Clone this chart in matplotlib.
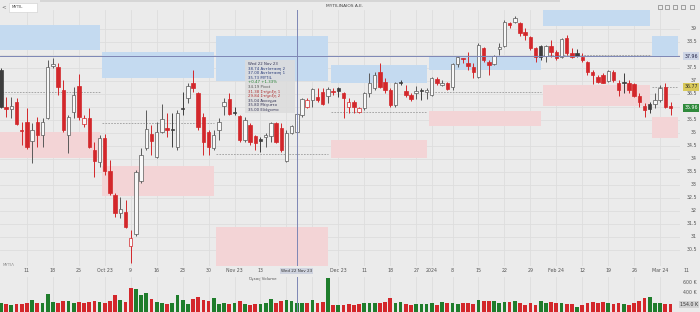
import numpy as np
import pandas as pd
import matplotlib.pyplot as plt
from matplotlib.patches import Rectangle
import matplotlib.transforms as mtransforms

W, H = 700, 312

# Athens trading days, Sep 2023 - Mar 2024
holidays = pd.to_datetime(["2023-12-25", "2023-12-26", "2024-01-01"])
days = pd.bdate_range("2023-09-04", "2024-03-06")
days = days[~days.isin(holidays)]

opens = [37.42, 36.00, 35.92, 36.19, 35.10, 35.42, 34.69, 35.42, 34.92, 35.58,
         37.58, 37.54, 36.65, 34.92, 35.81, 36.81, 35.35, 35.58, 34.35, 33.88,
         34.81, 33.54, 32.62, 31.92, 31.96, 30.65, 31.12, 33.15, 34.42, 34.96,
         34.08, 35.04, 35.19, 35.15, 34.46, 35.94, 36.35, 36.92, 36.54, 35.62,
         35.04, 34.42, 35.12, 36.04, 36.31, 35.79, 35.65, 34.73, 35.31, 34.88,
         34.77, 34.85, 34.88, 35.38, 35.19, 33.92, 35.00, 35.04, 35.69, 36.00,
         36.27, 36.38, 36.58, 36.42, 36.60, 36.73, 36.54, 36.00, 36.19, 35.81,
         35.96, 36.54, 36.73, 37.35, 36.96, 36.65, 36.08, 36.94, 36.62, 36.46,
         36.54, 36.63, 36.58, 36.46, 37.08, 36.85, 36.92, 36.77, 37.65, 37.86,
         37.69, 37.54, 37.15, 38.27, 37.73, 37.65, 38.23, 38.35, 39.23, 39.27,
         39.23, 38.88, 38.69, 38.27, 38.35, 37.96, 38.35, 38.12, 37.92, 38.65,
         38.08, 38.08, 37.92, 37.73, 37.35, 37.15, 37.23, 37.00, 37.35, 36.92,
         36.94, 36.92, 36.88, 36.42, 36.04, 36.12, 36.12, 36.27, 36.77, 36.04]
highs = [37.50, 36.38, 36.38, 36.35, 35.42, 35.96, 35.38, 35.62, 35.58, 37.81,
         37.88, 37.69, 37.04, 35.69, 36.77, 37.27, 35.69, 35.96, 34.65, 34.92,
         34.96, 33.96, 32.69, 32.54, 32.42, 31.27, 33.58, 34.42, 35.88, 35.31,
         35.42, 36.12, 35.77, 35.77, 35.88, 36.58, 36.92, 37.42, 36.58, 35.77,
         35.12, 35.12, 35.58, 36.35, 36.54, 36.00, 35.69, 35.62, 35.38, 34.92,
         34.85, 35.00, 35.42, 35.42, 35.38, 35.12, 35.31, 35.80, 36.35, 36.35,
         36.73, 36.73, 36.73, 36.77, 36.73, 36.75, 36.58, 36.35, 36.27, 36.00,
         36.58, 37.31, 37.35, 37.69, 37.12, 36.73, 36.96, 37.04, 36.85, 36.54,
         36.81, 36.73, 36.73, 37.15, 37.15, 37.04, 36.96, 37.69, 37.96, 37.88,
         38.12, 37.69, 38.46, 38.31, 37.81, 38.00, 38.46, 39.35, 39.27, 39.50,
         39.27, 39.04, 38.73, 38.31, 38.38, 38.38, 38.58, 38.19, 38.65, 38.77,
         38.27, 38.23, 38.08, 37.77, 37.42, 37.23, 37.31, 37.42, 37.42, 37.04,
         37.31, 37.04, 36.92, 36.54, 36.15, 36.19, 36.54, 36.85, 36.92, 36.19]
lows = [35.96, 35.62, 35.58, 35.31, 34.54, 34.38, 33.85, 34.46, 34.46, 35.54,
        37.50, 36.46, 35.04, 34.23, 35.58, 35.50, 35.23, 34.42, 33.31, 33.69,
        33.38, 32.62, 31.77, 31.73, 31.35, 30.00, 31.04, 33.08, 34.35, 34.15,
        34.04, 35.00, 34.85, 34.46, 34.35, 35.69, 36.15, 36.58, 35.12, 34.15,
        34.15, 34.35, 34.73, 35.69, 35.69, 35.69, 34.65, 34.65, 34.54, 34.35,
        34.27, 34.46, 34.65, 34.62, 34.27, 33.88, 34.96, 35.00, 35.62, 35.96,
        36.00, 36.19, 36.08, 36.15, 36.46, 36.38, 35.58, 35.77, 35.77, 35.77,
        35.88, 36.38, 36.65, 36.73, 36.54, 36.00, 36.00, 36.85, 36.38, 36.23,
        36.31, 36.27, 36.31, 36.42, 36.85, 36.81, 36.65, 36.65, 37.54, 37.69,
        37.42, 37.12, 37.12, 37.73, 37.23, 37.62, 38.00, 38.31, 39.04, 39.23,
        38.73, 38.58, 38.19, 37.73, 37.81, 37.73, 37.92, 37.81, 37.88, 38.00,
        37.88, 37.92, 37.73, 37.23, 36.88, 36.92, 36.92, 36.96, 36.96, 36.42,
        36.54, 36.54, 36.38, 36.00, 35.62, 35.77, 35.96, 36.19, 35.96, 35.69]
closes = [36.00, 35.92, 36.04, 35.35, 35.08, 34.46, 35.12, 34.92, 35.42, 37.54,
          37.65, 36.77, 35.12, 35.62, 36.46, 35.62, 35.58, 34.46, 33.92, 34.81,
          33.54, 32.69, 31.92, 32.08, 31.38, 30.96, 33.50, 34.15, 35.15, 34.69,
          35.04, 35.54, 35.12, 35.13, 35.77, 35.92, 36.81, 36.73, 35.23, 34.65,
          34.46, 34.92, 35.42, 36.19, 35.73, 35.77, 34.73, 35.50, 34.65, 34.62,
          34.69, 34.92, 35.38, 34.65, 34.35, 35.00, 35.26, 35.73, 36.31, 36.27,
          36.69, 36.27, 36.12, 36.69, 36.56, 36.62, 36.35, 36.19, 36.00, 35.96,
          36.54, 36.92, 37.23, 36.77, 36.65, 36.08, 36.92, 36.93, 36.46, 36.31,
          36.62, 36.62, 36.65, 37.12, 36.92, 36.92, 36.69, 37.65, 37.92, 37.83,
          37.58, 37.35, 38.38, 37.81, 37.62, 37.96, 38.31, 39.27, 39.15, 39.42,
          38.85, 38.77, 38.27, 37.92, 37.93, 38.35, 38.12, 37.88, 38.62, 38.08,
          37.92, 37.96, 37.81, 37.35, 37.23, 36.96, 36.94, 37.38, 37.04, 36.65,
          36.92, 36.65, 36.42, 36.19, 35.88, 35.92, 36.27, 36.73, 36.00, 35.96]
# thousands of shares
volumes = [174, 154, 140, 154, 160, 174, 240, 186, 186, 354, 206, 174, 226, 220, 186,
           206, 174, 194, 226, 194, 174, 226, 340, 240, 206, 474, 454, 340, 374, 254,
           206, 186, 154, 186, 340, 240, 154, 254, 306, 240, 220, 274, 154, 174, 154,
           186, 226, 154, 140, 154, 154, 174, 254, 174, 220, 240, 220, 186, 174, 186,
           240, 186, 206, 686, 140, 140, 140, 154, 140, 154, 174, 186, 186, 186, 206,
           286, 174, 206, 154, 140, 154, 154, 154, 174, 140, 206, 174, 186, 154, 174,
           174, 154, 240, 226, 226, 220, 174, 206, 206, 220, 174, 140, 174, 140, 220,
           186, 206, 174, 174, 160, 160, 106, 140, 174, 206, 174, 206, 186, 154, 186,
           154, 140, 174, 220, 274, 306, 174, 174, 154, 154]

# monthly pivot levels
months = ["2023-09", "2023-10", "2023-11", "2023-12", "2024-01", "2024-02", "2024-03"]
r2 = [39.15, 38.12, 38.74, 37.62, 37.96, 39.73, 38.73]
r1 = [38.19, 37.12, 37.00, 36.92, 37.42, 39.12, 37.96]
pivot = [36.58, 35.38, 34.19, 35.81, 36.58, 38.00, 36.77]
s1 = [35.04, 33.73, 31.38, 34.73, 35.85, 36.85, 35.62]
s2 = [34.04, 32.58, 29.84, 34.04, 35.27, 36.04, 34.81]

tick_dates = ["2023-09-11", "2023-09-18", "2023-09-25", "2023-10-02", "2023-10-09",
              "2023-10-16", "2023-10-23", "2023-10-30", "2023-11-06", "2023-11-13",
              "2023-11-20", "2023-11-27", "2023-12-04", "2023-12-11", "2023-12-18",
              "2023-12-27", "2024-01-02", "2024-01-08", "2024-01-15", "2024-01-22",
              "2024-01-29", "2024-02-05", "2024-02-12", "2024-02-19", "2024-02-26",
              "2024-03-04"]
tick_labels = ["11", "18", "25", "Oct 23", "9", "16", "23", "30", "Nov 23", "13",
               "20", "27", "Dec 23", "11", "18", "27", "2024", "8", "15", "22",
               "29", "Feb 24", "12", "19", "26", "Mar 24"]
price_ticks = np.arange(30.5, 39.01, 0.5)
vol_ticks = [400, 600]

cursor_day = "2023-11-22"
cursor_price = 37.96

BG = "#ebebeb"
GRID = "#dddddd"
RED = "#d3272b"
DARK = "#3d3d3d"
EDGE = "#5a5a5a"
GREEN = "#1f7d2c"
BLUE_Z = "#c4daf0"
RED_Z = "#f3d4d6"
CROSS = "#7d86b5"
LBL = "#555555"

o = np.array(opens); h = np.array(highs); l = np.array(lows); c = np.array(closes)
v = np.array(volumes)
n = len(c)
idx = np.arange(n)
prev = np.r_[c[0] - 1, c[:-1]]


def fy(px):
    return 1 - px / H


fig = plt.figure(figsize=(W / 100, H / 100), dpi=100)
fig.patch.set_facecolor(BG)

ax = fig.add_axes([0, fy(266), 680 / W, (266 - 10) / H])
vax = fig.add_axes([0, 0, 680 / W, (312 - 277) / H])
for a in (ax, vax):
    a.set_facecolor(BG)
    for s in a.spines.values():
        s.set_visible(False)
    a.set_xticks([]); a.set_yticks([])
    a.set_xlim(-0.19, 130.83)
ax.set_ylim(29.88, 39.73)
vax.set_ylim(0, 700)

# grid
tick_idx = [int(np.searchsorted(days, pd.Timestamp(d))) for d in tick_dates]
for t in tick_idx:
    ax.axvline(t, color=GRID, lw=0.6, zorder=0)
    vax.axvline(t, color=GRID, lw=0.6, zorder=0)
for p in price_ticks:
    ax.axhline(p, color=GRID, lw=0.6, zorder=0)

# monthly pivot zones: R1-R2 in blue, S1-S2 in pink, pivot dashed
month_of = days.strftime("%Y-%m")
for k, m in enumerate(months):
    sel = np.where(month_of == m)[0]
    x0 = sel[0] - 0.5
    x1 = sel[-1] + 0.5 - 0.4 if k < len(months) - 1 else 130.4
    ax.add_patch(Rectangle((x0, r1[k]), x1 - x0, r2[k] - r1[k], facecolor=BLUE_Z,
                           edgecolor="none", zorder=1))
    ax.add_patch(Rectangle((x0, s2[k]), x1 - x0, s1[k] - s2[k], facecolor=RED_Z,
                           edgecolor="none", zorder=1))
    ax.plot([x0, x1], [pivot[k]] * 2, color="#9c9c9c", lw=0.6, ls=(0, (2, 1.5)), zorder=2)

# candles: filled when close < open, red when close < previous close
bw = 0.66
for i in idx:
    col = RED if (i > 0 and c[i] < prev[i]) else DARK
    filled = c[i] < o[i]
    edge = col if (filled or col == RED) else EDGE
    ax.vlines(i, l[i], h[i], color=edge, lw=0.7, zorder=3)
    lo, hi = min(o[i], c[i]), max(o[i], c[i])
    hgt = max(hi - lo, 0.035)
    ax.add_patch(Rectangle((i - bw / 2, lo), bw, hgt,
                           facecolor=col if filled else "#f8f8f8",
                           edgecolor=edge, lw=0.5, zorder=4))

# volume
vcol = [GREEN if c[i] >= prev[i] else RED for i in idx]
vax.bar(idx, v, width=0.72, color=vcol, zorder=3)

# crosshair
ci = int(np.searchsorted(days, pd.Timestamp(cursor_day)))
ax.axhline(cursor_price, color=CROSS, lw=0.7, zorder=6)
ax.axvline(ci, color=CROSS, lw=0.7, zorder=6)
vax.axvline(ci, color=CROSS, lw=0.7, zorder=6)

# tooltip for the hovered day
k = months.index(cursor_day[:7])
chg = c[ci] - c[ci - 1]
day_txt = pd.Timestamp(cursor_day).strftime("%a %d %b %y")
rows = [(day_txt, "#333355"),
        (f"{r2[k]:.2f} Αντίσταση 2", "#2a3d7a"),
        (f"{r1[k]:.2f} Αντίσταση 1", "#2a3d7a"),
        (f"{c[ci]:.2f} MYTIL", "#2a3d7a"),
        (f"{chg:+.2f} {chg / c[ci - 1] * 100:+.2f}%", GREEN),
        (f"{pivot[k]:.2f} Pivot", LBL),
        (f"{s1[k]:.2f} Στήριξη 1", "#b03030"),
        (f"{s2[k]:.2f} Στήριξη 2", "#b03030"),
        (f"{o[ci]:.2f} Άνοιγμα", "#333355"),
        (f"{h[ci]:.2f} Μέγιστο", "#333355"),
        (f"{l[ci]:.2f} Ελάχιστο", "#333355")]
fig.patches.append(Rectangle((245 / W, fy(113)), 50 / W, 53 / H, transform=fig.transFigure,
                             facecolor="#dcdcdc", edgecolor="none", alpha=0.85, zorder=7))
for r, (txt, colr) in enumerate(rows):
    fig.text(248 / W, fy(64 + r * 4.6), txt, fontsize=2.8, color=colr, va="center",
             ha="left", zorder=8)

# right price axis with value tags
tr = mtransforms.blended_transform_factory(fig.transFigure, ax.transData)
tags = [(cursor_price, "#cdd5e6", "#222244"), (pivot[-1], "#d9c95a", "#333333"),
        (c[-1], "#2f8a3b", "white")]
tag_vals = np.array([t[0] for t in tags])
for p in price_ticks:
    if np.min(np.abs(tag_vals - p)) < 0.2:
        continue
    ax.text(697 / W, p, f"{p:g}", transform=tr, fontsize=3.4, color=LBL, ha="right",
            va="center", clip_on=False)
for val, fc, tc in tags:
    ax.text(698 / W, val, f"{val:.2f}", transform=tr, fontsize=3.4, color=tc, ha="right",
            va="center", clip_on=False, zorder=9,
            bbox=dict(boxstyle="square,pad=0.25", facecolor=fc, edgecolor="none"))

# volume axis
vtr = mtransforms.blended_transform_factory(fig.transFigure, vax.transData)
for val in vol_ticks:
    vax.text(697 / W, val, f"{val} K", transform=vtr, fontsize=3.4, color=LBL,
             ha="right", va="center", clip_on=False)
vax.text(698 / W, v[-1], f"{v[-1]:.1f} K", transform=vtr, fontsize=3.4, color="#333333",
         ha="right", va="center", clip_on=False,
         bbox=dict(boxstyle="square,pad=0.25", facecolor="#d2d2d2", edgecolor="none"))
fig.text(262 / W, fy(279), "Όγκος Volume", fontsize=2.8, color=LBL, ha="center",
         va="center")

# date labels between the panels
xtr = mtransforms.blended_transform_factory(ax.transData, fig.transFigure)
for t, lab in zip(tick_idx, tick_labels):
    if abs(t - ci) < 4:
        continue
    fig.text(t, fy(271), lab, transform=xtr, fontsize=3.4, color=LBL, ha="center",
             va="center")
fig.text(n + 2, fy(271), "11", transform=xtr, fontsize=3.4, color=LBL, ha="center",
         va="center")
fig.text(ci, fy(271), day_txt, transform=xtr, fontsize=3.0, color="#333333", ha="center",
         va="center", zorder=9,
         bbox=dict(boxstyle="square,pad=0.2", facecolor="#cfd3df", edgecolor="none"))
fig.text(3 / W, fy(265), "ΜΥΤΙΛ", fontsize=2.8, color="#8a8a8a", ha="left", va="center")

# top bar
fig.patches.append(Rectangle((40 / W, fy(2)), 520 / W, 2 / H, transform=fig.transFigure,
                             facecolor="#d6d6d6", edgecolor="none"))
fig.patches.append(Rectangle((9 / W, fy(12)), 28 / W, 9 / H, transform=fig.transFigure,
                             facecolor="white", edgecolor="#cccccc", lw=0.4))
fig.text(4 / W, fy(6.5), "<", fontsize=4, color="#666666", ha="center", va="center")
fig.text(12 / W, fy(7.5), "MYTIL", fontsize=2.8, color="#444444", ha="left", va="center")
fig.text(345 / W, fy(6), "MYTILINAIOS A.E.", fontsize=3.2, color="#444444", ha="center",
         va="center")
for xi in [658, 665, 673, 681, 690]:
    fig.patches.append(Rectangle((xi / W, fy(9)), 4 / W, 4 / H, transform=fig.transFigure,
                                 facecolor="none", edgecolor="#666666", lw=0.4))

fig.savefig("out.png", dpi=100, facecolor=BG)
